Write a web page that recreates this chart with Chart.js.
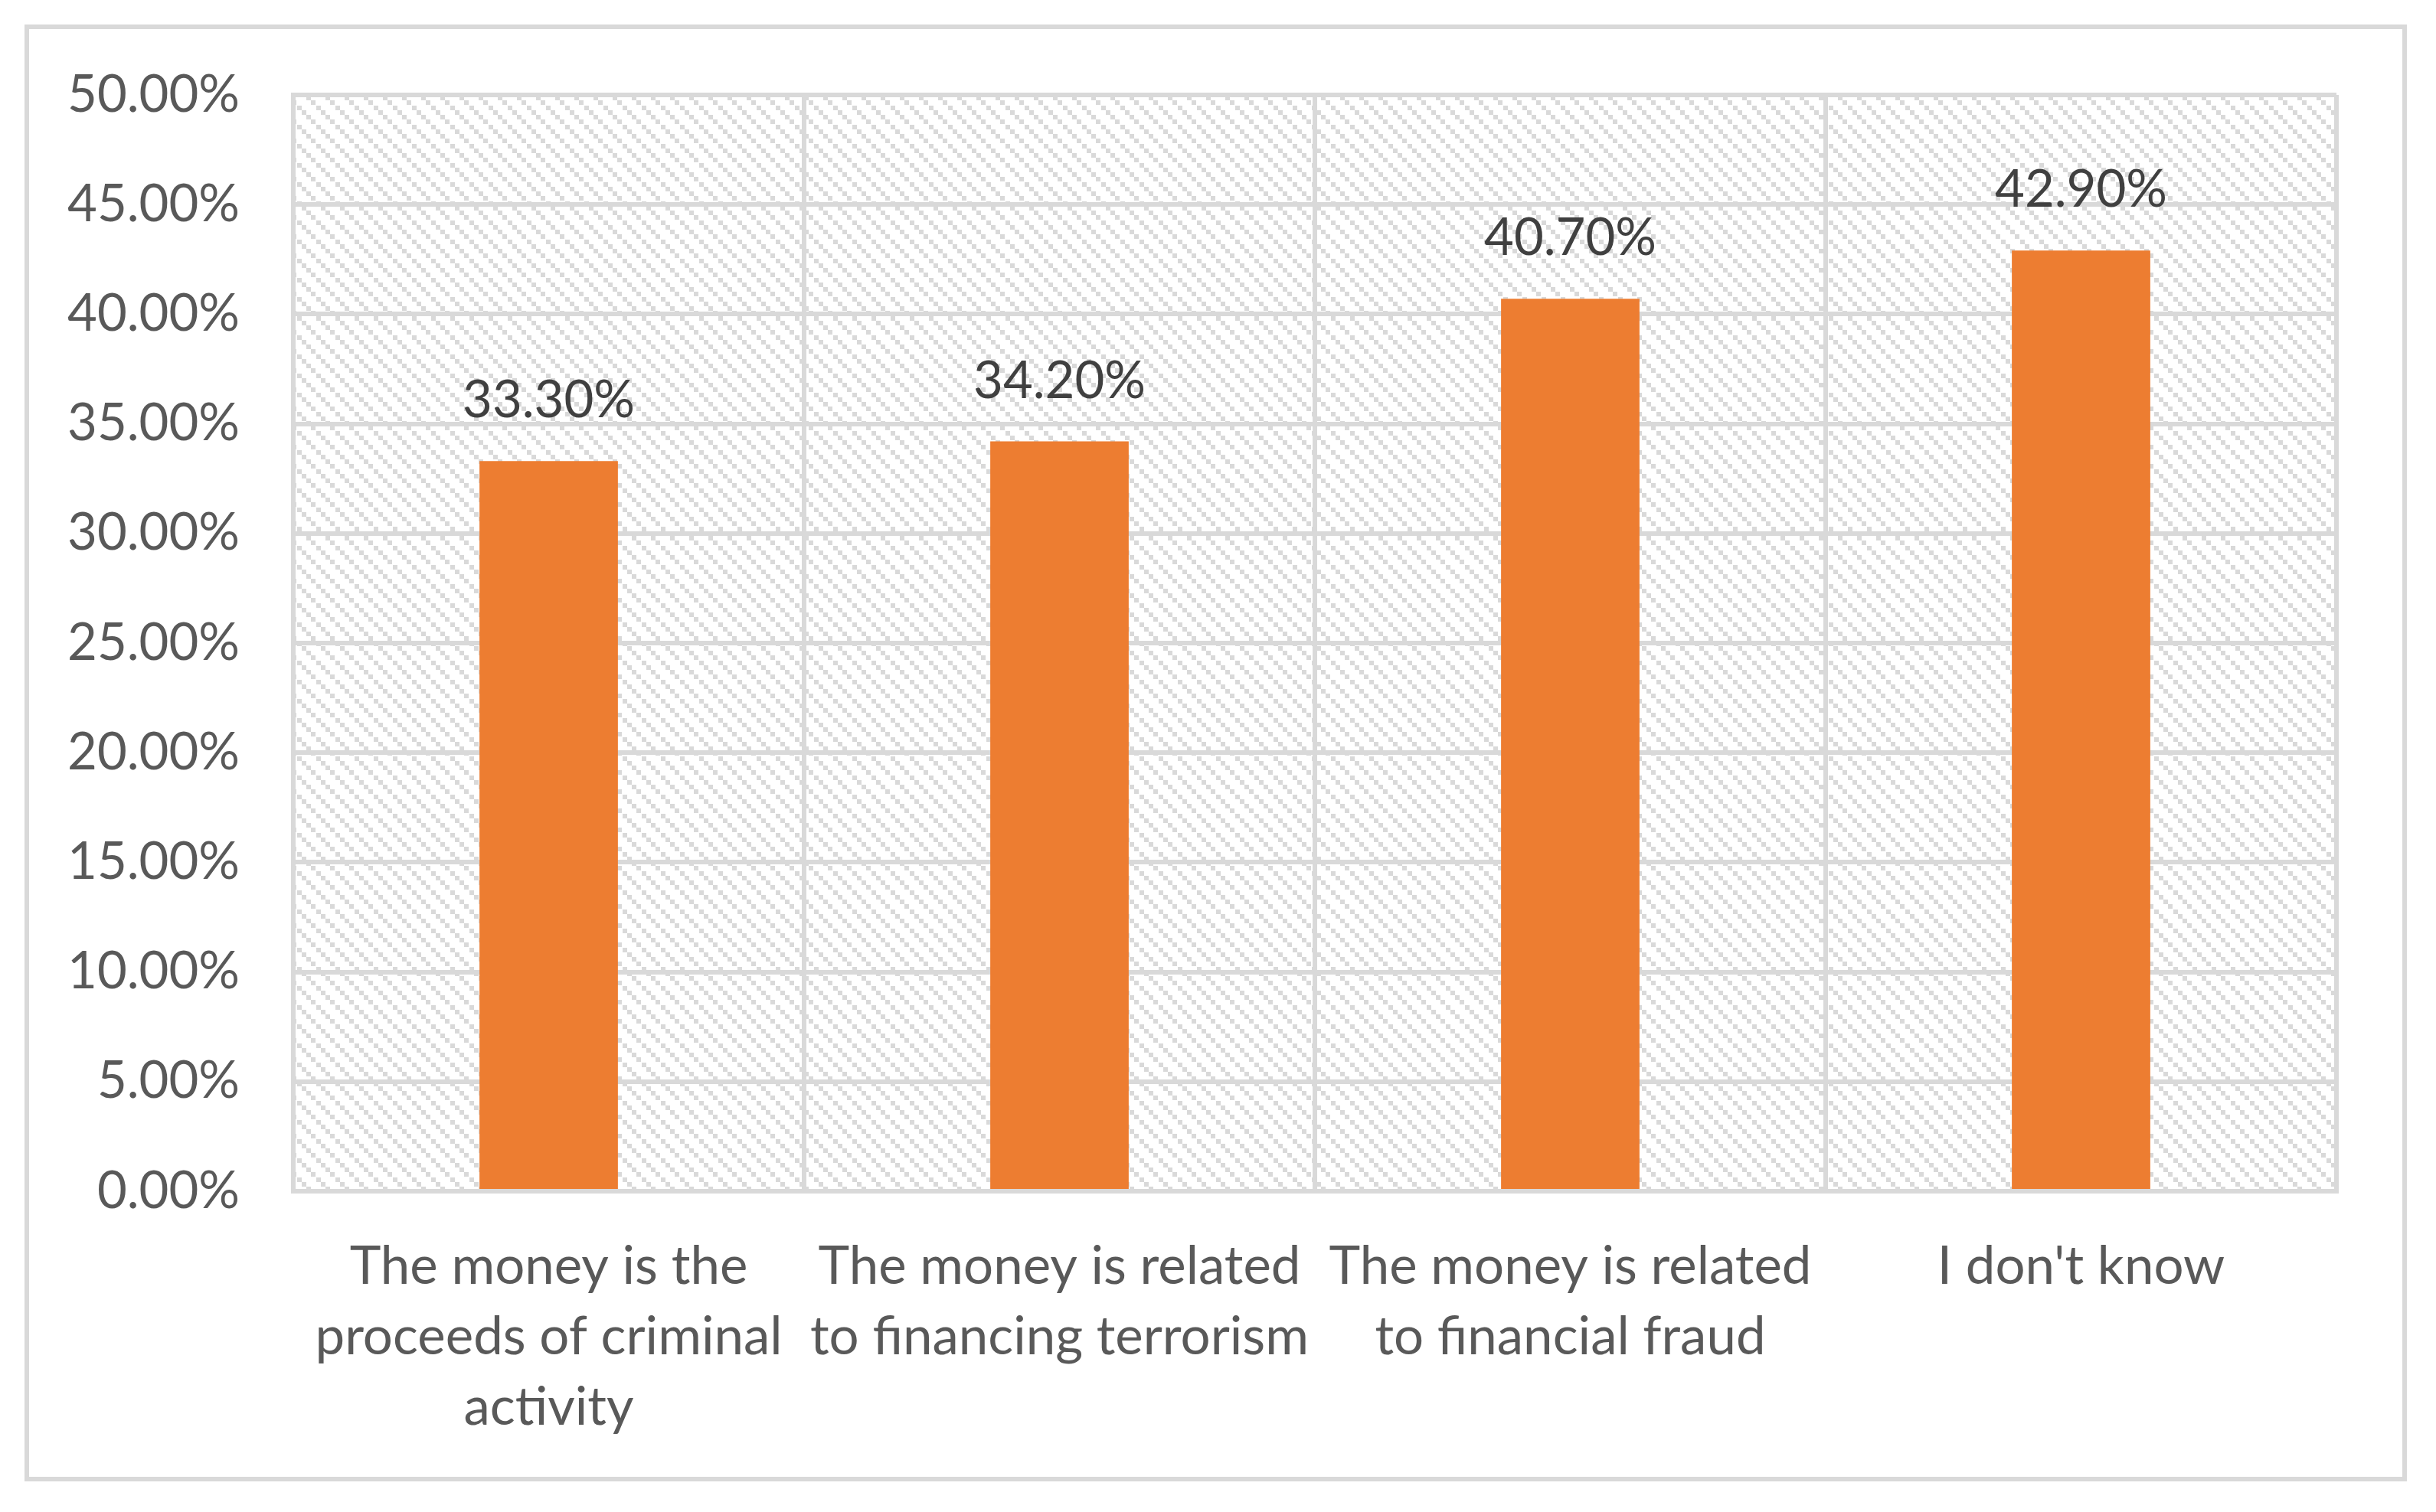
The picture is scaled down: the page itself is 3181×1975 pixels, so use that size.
<!DOCTYPE html>
<html lang="en">
<head>
  <meta charset="UTF-8" />
  <title>Money laundering awareness</title>
  <script src="https://cdn.jsdelivr.net/npm/chart.js"></script>
  <style>
    body {
      margin: 0;
      background: #ffffff;
    }

    .chart-box {
      position: relative;
      width: 3181px;
      height: 1975px;
    }
  </style>
</head>
<body>
  <div class="chart-box">
    <canvas id="answersChart"></canvas>
  </div>

  <script>
    const categories = [
      ["The money is the", "proceeds of criminal", "activity"],
      ["The money is related", "to financing terrorism"],
      ["The money is related", "to financial fraud"],
      ["I don't know"]
    ];
    const shares = [33.3, 34.2, 40.7, 42.9];
    const yMin = 0;
    const yMax = 50;
    const yStep = 5;

    const gridGrey = "#D9D9D9";
    const fontFamily = "Lato, 'Open Sans', sans-serif";
    const fontSize = 67;
    const catFontSize = 69;

    const pct = v => v.toFixed(2) + "%";

    // light downward diagonal hatch like the Excel plot area
    const tile = document.createElement("canvas");
    tile.width = 25;
    tile.height = 25;
    const tctx = tile.getContext("2d");
    tctx.fillStyle = "#ffffff";
    tctx.fillRect(0, 0, 25, 25);
    tctx.fillStyle = gridGrey;
    for (let i = 0; i < 4; i++) {
      tctx.fillRect(Math.round(i * 6.25), Math.round(i * 6.25), 6, 6);
    }

    const backdrop = {
      id: "backdrop",
      beforeDraw(chart) {
        const { ctx, chartArea: a } = chart;
        ctx.save();
        ctx.fillStyle = ctx.createPattern(tile, "repeat");
        ctx.fillRect(a.left, a.top, a.right - a.left, a.bottom - a.top);
        ctx.strokeStyle = gridGrey;
        ctx.lineWidth = 6;
        ctx.strokeRect(35, 35, 3105, 1897);
        ctx.restore();
      }
    };

    const valueLabels = {
      id: "valueLabels",
      afterDatasetsDraw(chart) {
        const { ctx } = chart;
        ctx.save();
        ctx.font = `${fontSize}px ${fontFamily}`;
        ctx.fillStyle = "#404040";
        ctx.textAlign = "center";
        ctx.textBaseline = "alphabetic";
        chart.getDatasetMeta(0).data.forEach((bar, i) => {
          ctx.fillText(pct(shares[i]), bar.x, bar.y - 57);
        });
        ctx.restore();
      }
    };

    new Chart(document.getElementById("answersChart"), {
      type: "bar",
      data: {
        labels: categories,
        datasets: [{
          data: shares,
          backgroundColor: "#ED7D31",
          borderWidth: 0,
          categoryPercentage: 1,
          barPercentage: 0.271
        }]
      },
      options: {
        responsive: true,
        maintainAspectRatio: false,
        animation: false,
        events: [],
        layout: { padding: { left: 0, top: 124, right: 130, bottom: 0 } },
        plugins: {
          legend: { display: false },
          tooltip: { enabled: false }
        },
        scales: {
          x: {
            grid: { color: gridGrey, lineWidth: 6, drawTicks: false, offset: true },
            border: { color: gridGrey, width: 6 },
            ticks: {
              color: "#595959",
              font: { family: fontFamily, size: catFontSize, lineHeight: 92 / catFontSize },
              padding: 53,
              maxRotation: 0,
              autoSkip: false
            },
            afterFit(scale) { scale.height = 419; }
          },
          y: {
            min: yMin,
            max: yMax,
            grid: { color: gridGrey, lineWidth: 6, drawTicks: false },
            border: { color: gridGrey, width: 6 },
            ticks: {
              stepSize: yStep,
              color: "#595959",
              font: { family: fontFamily, size: fontSize },
              padding: 70,
              callback: v => pct(v)
            },
            afterFit(scale) { scale.width = 383; }
          }
        }
      },
      plugins: [backdrop, valueLabels]
    });
  </script>
</body>
</html>
